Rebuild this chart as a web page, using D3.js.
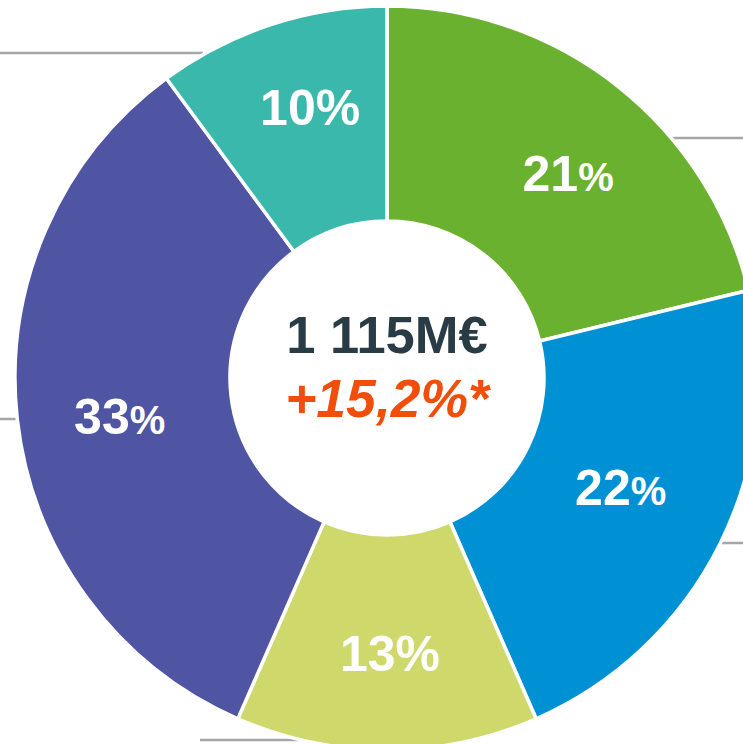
<!DOCTYPE html>
<html>
<head>
<meta charset="utf-8">
<script src="https://cdn.jsdelivr.net/npm/d3@7"></script>
<style>
  body { margin: 0; background: #fff; }
  svg { display: block; font-family: "Liberation Sans", Arial, sans-serif; }
</style>
</head>
<body>
<svg width="743" height="744"></svg>
<script>
// data
const segments = ['A', 'B', 'C', 'D', 'E'];
const shares   = [21, 22, 13, 33, 10];
const colors   = ['#6ab130', '#0091d5', '#ced86b', '#4f55a3', '#3bb8ac'];
const total    = '1 115M€';
const growth   = '+15,2%*';

// layout: label nudges from the centroid, size of the "%" sign
const nudges   = [[13, 9], [-10, -12], [3, 3], [3, 8], [8, -13]];
const pctSizes = [40, 40, 50, 40, 50];

// leader lines of the (cropped) outside labels, per segment: y, x0, x1
const leaders = [
  [138, 661, 743],
  [543, 707, 743],
  [740, 200, 346],
  [419, 0, 17],
  [53, 0, 203]
];

const svg = d3.select('svg');
const cx = 387, cy = 378;
const outerR = 372, innerR = 157, labelR = 272;

const data = segments.map((s, i) => ({ name: s, value: shares[i], color: colors[i], i }));

const pie = d3.pie().sort(null).value(d => d.value);
const arc = d3.arc().innerRadius(innerR).outerRadius(outerR);
const labelArc = d3.arc().innerRadius(labelR).outerRadius(labelR);

// leader lines (behind slices)
svg.append('g')
  .selectAll('line')
  .data(leaders).enter()
  .append('line')
    .attr('x1', d => d[1]).attr('x2', d => d[2])
    .attr('y1', d => d[0]).attr('y2', d => d[0])
    .attr('stroke', '#a6a6a6')
    .attr('stroke-width', 2.5);

const g = svg.append('g').attr('transform', `translate(${cx},${cy})`);

g.selectAll('path')
  .data(pie(data)).enter()
  .append('path')
    .attr('d', arc)
    .attr('fill', d => d.data.color)
    .attr('stroke', '#fff')
    .attr('stroke-width', 3.5)
    .attr('stroke-linejoin', 'miter');

// percent labels
const labels = g.selectAll('text.pct')
  .data(pie(data)).enter()
  .append('text')
    .attr('class', 'pct')
    .attr('transform', d => {
      const [x, y] = labelArc.centroid(d);
      const [nx, ny] = nudges[d.data.i];
      return `translate(${x + nx},${y + ny})`;
    })
    .attr('text-anchor', 'middle')
    .attr('font-size', 50)
    .attr('dy', '0.36em')
    .attr('fill', '#fff')
    .attr('font-weight', 'bold');
labels.append('tspan').text(d => d.data.value);
labels.append('tspan').attr('font-size', d => pctSizes[d.data.i]).text('%');

// centre texts
g.append('text')
  .attr('text-anchor', 'middle')
  .attr('y', -25)
  .attr('font-size', 52.5)
  .attr('font-weight', 'bold')
  .attr('fill', '#293b45')
  .text(total);

g.append('text')
  .attr('text-anchor', 'middle')
  .attr('y', 39)
  .attr('font-size', 53.5)
  .attr('font-weight', 'bold')
  .attr('font-style', 'italic')
  .attr('fill', '#f04e0a')
  .text(growth);
</script>
</body>
</html>
